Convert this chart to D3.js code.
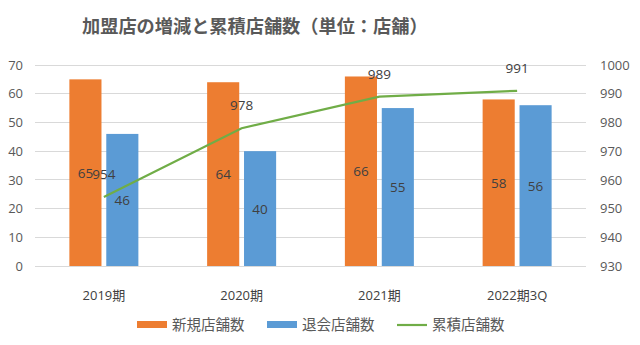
<!DOCTYPE html>
<html><head><meta charset="utf-8">
<script src="https://cdn.jsdelivr.net/npm/d3@7"></script>
<style>body{margin:0;background:#fff}svg{display:block}</style>
</head><body>
<svg id="c" width="640" height="345"></svg>
<script>
const categories = ["2019期","2020期","2021期","2022期3Q"];
const newStores = [65,64,66,58];
const closedStores = [46,40,55,56];
const cumulative = [954,978,989,991];
const leftTicks = [0,10,20,30,40,50,60,70];
const rightTicks = [930,940,950,960,970,980,990,1000];

const svg = d3.select("#c");
const font = "'Open Sans','Noto Sans CJK JP',sans-serif";
const jfont = "'Noto Sans CJK JP','Noto Sans',sans-serif";
const txt = "#595959";
const L = 35, R = 586, T = 65, B = 266;

const x = d3.scaleBand().domain(categories).range([L,R]).paddingInner(0).paddingOuter(0);
const yL = d3.scaleLinear().domain([0,70]).range([B,T]);
const yR = d3.scaleLinear().domain([930,1000]).range([B,T]);
const inner = d3.scaleBand().domain(["n","c"]).range([0,69]).paddingInner(0.13);

svg.append("text").attr("x",82).attr("y",33).attr("font-family",jfont).attr("font-size",18.2)
  .attr("font-weight","bold").attr("fill",txt).text("加盟店の増減と累積店舗数（単位：店舗）");

// grid
svg.append("g").selectAll("line").data(leftTicks).join("line")
  .attr("x1",L).attr("x2",R).attr("y1",d=>yL(d)).attr("y2",d=>yL(d))
  .attr("stroke","#d9d9d9").attr("stroke-width",1).attr("shape-rendering","crispEdges");

// left axis
const gl = svg.append("g").attr("transform",`translate(${L},0)`)
  .call(d3.axisLeft(yL).tickValues(leftTicks).tickSize(0).tickPadding(12));
gl.select(".domain").remove();
gl.selectAll("text").attr("font-family",font).attr("font-size",13).attr("fill",txt);

const gr = svg.append("g").attr("transform",`translate(${R},0)`)
  .call(d3.axisRight(yR).tickValues(rightTicks).tickFormat(d3.format("d")).tickSize(0).tickPadding(14));
gr.select(".domain").remove();
gr.selectAll("text").attr("font-family",font).attr("font-size",13).attr("fill",txt);

const gx = svg.append("g").attr("transform",`translate(0,${B+25})`)
  .call(d3.axisBottom(x).tickSize(0).tickPadding(0));
gx.select(".domain").remove();
gx.selectAll("text").attr("font-family",font).attr("font-size",13).attr("fill","#404040");

const off = (x.bandwidth()-69)/2;
const g = svg.append("g");
categories.forEach((c,i)=>{
  const x0 = x(c)+off;
  g.append("rect").attr("x",x0+inner("n")).attr("y",yL(newStores[i])).attr("width",inner.bandwidth())
    .attr("height",B-yL(newStores[i])).attr("fill","#ED7D31");
  g.append("rect").attr("x",x0+inner("c")).attr("y",yL(closedStores[i])).attr("width",inner.bandwidth())
    .attr("height",B-yL(closedStores[i])).attr("fill","#5B9BD5");
  g.append("text").attr("x",x0+inner("n")+inner.bandwidth()/2).attr("y",(yL(newStores[i])+B)/2+5)
    .attr("text-anchor","middle").attr("font-family",font).attr("font-size",13.5).attr("fill","#404040").text(newStores[i]);
  g.append("text").attr("x",x0+inner("c")+inner.bandwidth()/2).attr("y",(yL(closedStores[i])+B)/2+5)
    .attr("text-anchor","middle").attr("font-family",font).attr("font-size",13.5).attr("fill","#404040").text(closedStores[i]);
});

const cx = c => x(c)+x.bandwidth()/2;
svg.append("path").datum(cumulative)
  .attr("d", d3.line().x((d,i)=>cx(categories[i])).y(d=>yR(d)))
  .attr("fill","none").attr("stroke","#70AD47").attr("stroke-width",2.2);
svg.append("g").selectAll("text").data(cumulative).join("text")
  .attr("x",(d,i)=>cx(categories[i])).attr("y",d=>yR(d)-18)
  .attr("text-anchor","middle").attr("font-family",font).attr("font-size",13.5).attr("fill","#404040").text(d=>d);

// legend
const leg = [
  {t:"新規店舗数",c:"#ED7D31",type:"rect",x:137},
  {t:"退会店舗数",c:"#5B9BD5",type:"rect",x:267},
  {t:"累積店舗数",c:"#70AD47",type:"line",x:397}
];
const lg = svg.append("g");
leg.forEach(d=>{
  if(d.type==="rect") lg.append("rect").attr("x",d.x).attr("y",321).attr("width",30).attr("height",7).attr("fill",d.c);
  else lg.append("line").attr("x1",d.x).attr("x2",d.x+30).attr("y1",325).attr("y2",325).attr("stroke",d.c).attr("stroke-width",2.2);
  lg.append("text").attr("x",d.x+35).attr("y",330).attr("font-family",jfont).attr("font-size",14.5).attr("fill",txt).text(d.t);
});
</script>
</body></html>
